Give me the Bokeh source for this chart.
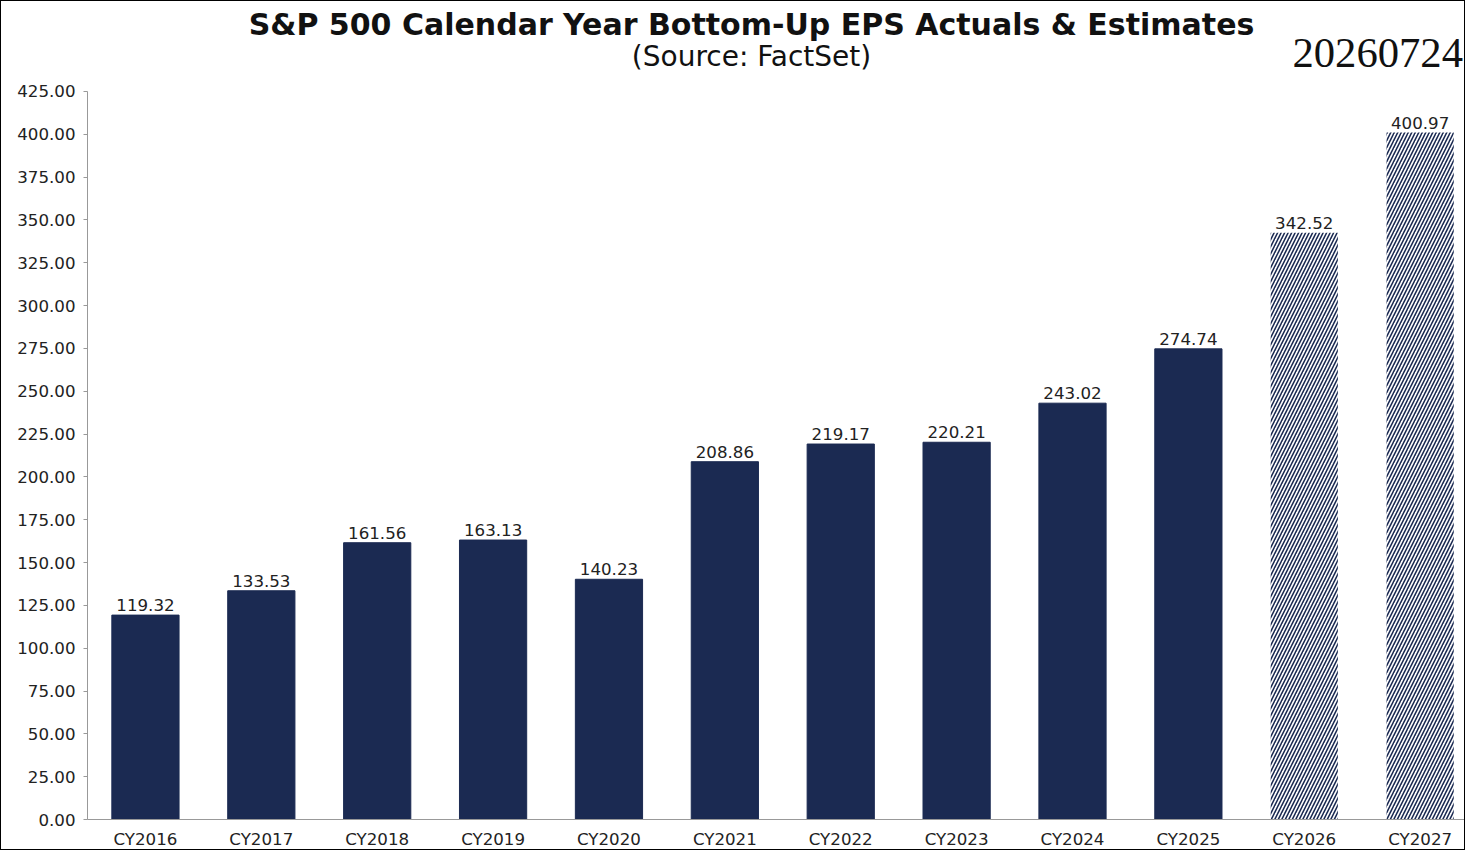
from bokeh.plotting import figure
from bokeh.models import ColumnDataSource, Label, FixedTicker, NumeralTickFormatter, Range1d
from bokeh.core.properties import value
from bokeh.embed import file_html
from bokeh.resources import INLINE

years = ["CY2016","CY2017","CY2018","CY2019","CY2020","CY2021","CY2022","CY2023","CY2024","CY2025","CY2026","CY2027"]
eps = [119.32,133.53,161.56,163.13,140.23,208.86,219.17,220.21,243.02,274.74,342.52,400.97]
estimate = [False]*10 + [True]*2
yticks = list(range(0, 426, 25))

xs = [i + 0.5 for i in range(len(years))]
act = ColumnDataSource(dict(x=[x for x,e in zip(xs,estimate) if not e], v=[v for v,e in zip(eps,estimate) if not e]))
est = ColumnDataSource(dict(x=[x for x,e in zip(xs,estimate) if e], v=[v for v,e in zip(eps,estimate) if e]))
lab = ColumnDataSource(dict(x=xs, v=eps, t=["%.2f" % v for v in eps]))

W, H = 1465, 850
p = figure(width=W, height=H, x_range=Range1d(0, 11.9), y_range=Range1d(0, 477.5),
           output_backend="svg", toolbar_location=None,
           min_border_left=86, min_border_top=0, min_border_bottom=26, min_border_right=0)
p.styles = {"border": "1px solid black"}
p.outline_line_color = None
p.grid.visible = False
navy = "#1b2a52"
p.vbar(x="x", top="v", width=0.58, source=act, fill_color=navy, line_color=navy)
p.vbar(x="x", top="v", width=0.58, source=est, fill_color="white", line_color=None,
       hatch_pattern="/", hatch_color=navy, hatch_scale=7, hatch_weight=1.6)
p.text(x="x", y="v", text="t", source=lab, text_align="center", text_baseline="bottom", y_offset=-4,
       text_font=value("DejaVu Sans"), text_font_size="12.5pt", text_color="#222222")

p.xaxis.ticker = FixedTicker(ticks=xs)
p.xaxis.major_label_overrides = {x: y for x, y in zip(xs, years)}
p.yaxis.ticker = FixedTicker(ticks=yticks)
p.yaxis.bounds = (0, 425)
p.yaxis.formatter = NumeralTickFormatter(format="0.00")
for ax in (p.xaxis, p.yaxis):
    ax.axis_line_color = "#999999"
    ax.major_tick_line_color = "#999999"
    ax.minor_tick_line_color = None
    ax.major_label_text_font = "DejaVu Sans"
    ax.major_label_text_font_size = "12.5pt"
    ax.major_label_text_color = "#222222"
p.yaxis.major_tick_in = 0
p.yaxis.major_tick_out = 4
p.xaxis.major_tick_line_color = None
p.xaxis.major_label_standoff = 4
p.yaxis.major_label_standoff = 8

p.add_layout(Label(x=5.73, y=464, text="S&P 500 Calendar Year Bottom-Up EPS Actuals & Estimates",
                   text_align="center", text_baseline="middle", text_font="DejaVu Sans", text_font_size="22.5pt",
                   text_font_style="bold", text_color="#111111"))
p.add_layout(Label(x=5.73, y=445.4, text="(Source: FactSet)",
                   text_align="center", text_baseline="middle", text_font="DejaVu Sans", text_font_size="21pt",
                   text_color="#111111"))
p.add_layout(Label(x=11.87, y=447.7, text="20260724",
                   text_align="right", text_baseline="middle", text_font="Liberation Serif", text_font_size="32pt",
                   text_color="#111111"))

open("out.html", "w").write(file_html(p, INLINE))
